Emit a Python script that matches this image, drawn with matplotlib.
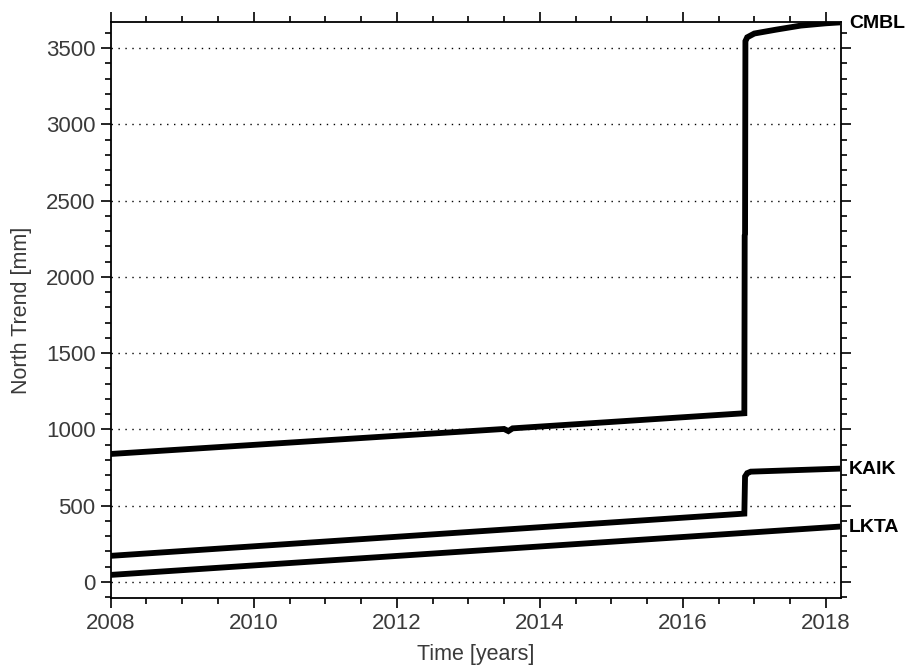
#!/usr/bin/env python3
"""North trend of three GPS stations, 2008-2018."""

import matplotlib

matplotlib.use("Agg")
import matplotlib.pyplot as plt
from matplotlib.ticker import MultipleLocator

plt.rcParams["font.family"] = ["Liberation Sans", "DejaVu Sans"]

# station time series (decimal years, mm)
cmbl_t = [2008.0, 2013.50, 2013.56, 2013.62, 2016.86, 2016.865, 2016.87, 2016.875,
          2016.90, 2017.0, 2017.3, 2017.65, 2018.0, 2018.2]
cmbl_v = [838, 1002, 988, 1006, 1105, 2270, 2280, 3545, 3570, 3595, 3620, 3647, 3662, 3668]

kaik_t = [2008.0, 2016.86, 2016.87, 2016.90, 2016.95, 2018.2]
kaik_v = [170, 447, 690, 712, 722, 742]

lkta_t = [2008.0, 2018.2]
lkta_v = [45, 362]

stations = ["CMBL", "KAIK", "LKTA"]
series = [(cmbl_t, cmbl_v), (kaik_t, kaik_v), (lkta_t, lkta_v)]

x_ticks = [2008, 2010, 2012, 2014, 2016, 2018]
y_ticks = [0, 500, 1000, 1500, 2000, 2500, 3000, 3500]


def main() -> None:
    fig = plt.figure(figsize=(9.15, 6.69), dpi=100)
    ax = fig.add_axes([0.121, 0.106, 0.798, 0.861])
    text_color = "#3a3a3a"

    for name, (t, v) in zip(stations, series):
        ax.plot(t, v, color="black", linewidth=4.2, solid_joinstyle="miter", solid_capstyle="butt")
        ax.annotate(
            name,
            xy=(1.0, v[-1]),
            xycoords=("axes fraction", "data"),
            xytext=(6, -1),
            textcoords="offset points",
            ha="left",
            va="center",
            fontsize=14,
            fontweight="bold",
            color="black",
        )

    ax.set_xlim(2008.0, 2018.21)
    ax.set_ylim(-107, 3670)
    ax.set_xticks(x_ticks)
    ax.set_yticks(y_ticks)
    ax.xaxis.set_minor_locator(MultipleLocator(0.5))
    ax.yaxis.set_minor_locator(MultipleLocator(100))
    ax.tick_params(which="both", direction="out", top=True, right=True, colors="black",
                   labelcolor=text_color, labelsize=16, width=1.2)
    ax.tick_params(which="major", length=7, pad=4)
    ax.tick_params(which="minor", length=4)
    ax.grid(axis="y", which="major", linestyle=(0, (1, 4)), color="black", linewidth=1.0)
    for spine in ax.spines.values():
        spine.set_linewidth(1.3)

    ax.set_xlabel("Time [years]", fontsize=15.5, color=text_color, labelpad=7)
    ax.set_ylabel("North Trend [mm]", fontsize=15.5, color=text_color, labelpad=10)

    fig.savefig("out.png", dpi=100)
    plt.close(fig)


if __name__ == "__main__":
    main()
